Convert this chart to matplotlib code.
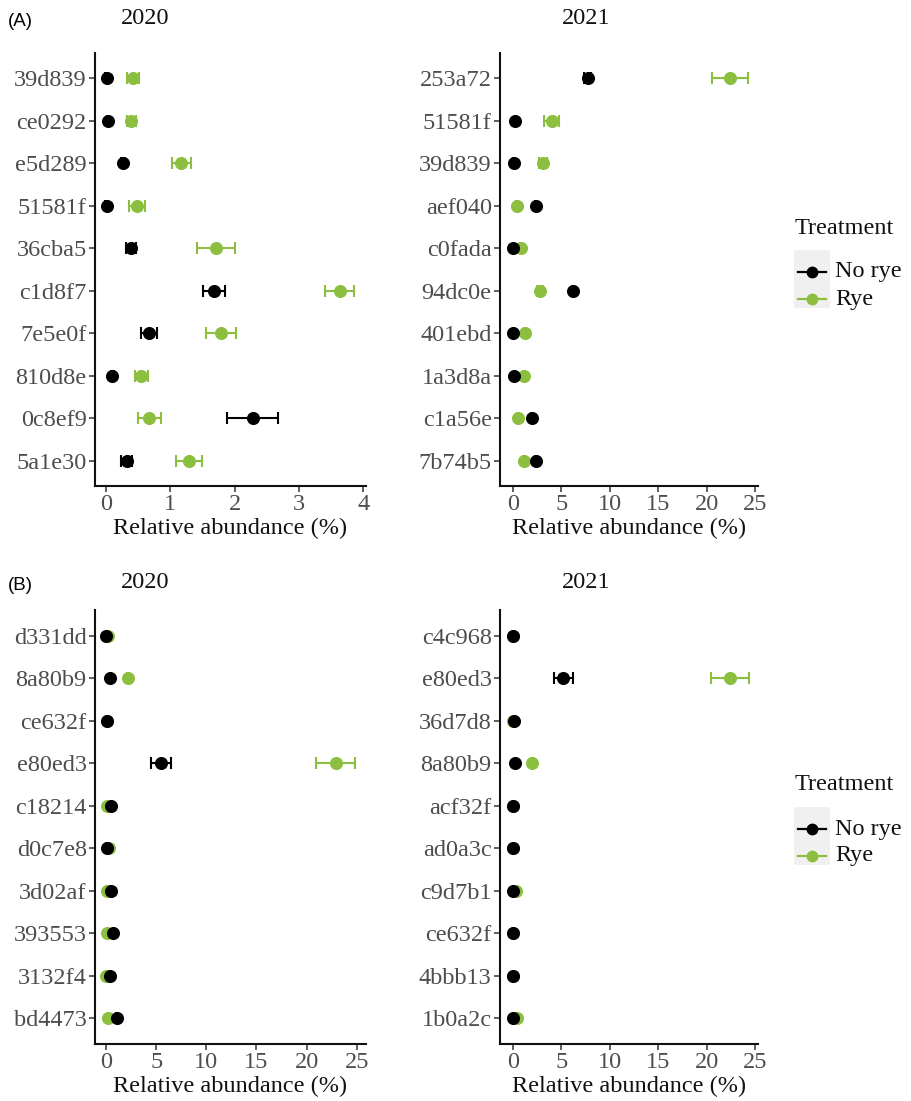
import numpy as np
import matplotlib
matplotlib.use("Agg")
import matplotlib.pyplot as plt
from matplotlib.lines import Line2D
from matplotlib.patches import Rectangle

# ---------------- data ----------------
a20_labels = ["39d839", "ce0292", "e5d289", "51581f", "36cba5", "c1d8f7", "7e5e0f", "810d8e", "0c8ef9", "5a1e30"]
a20_norye = [0.01, 0.03, 0.26, 0.01, 0.39, 1.68, 0.67, 0.10, 2.28, 0.32]
a20_norye_se = [0.02, 0.02, 0.03, 0.02, 0.08, 0.17, 0.12, 0.02, 0.40, 0.09]
a20_rye = [0.42, 0.39, 1.17, 0.48, 1.71, 3.63, 1.79, 0.55, 0.67, 1.29]
a20_rye_se = [0.10, 0.07, 0.145, 0.12, 0.30, 0.23, 0.23, 0.10, 0.18, 0.20]

a21_labels = ["253a72", "51581f", "39d839", "aef040", "c0fada", "94dc0e", "401ebd", "1a3d8a", "c1a56e", "7b74b5"]
a21_norye = [7.74, 0.24, 0.10, 2.40, 0.05, 6.20, 0.05, 0.14, 2.03, 2.40]
a21_norye_se = [0.35, 0.05, 0.05, 0.1, 0.03, 0.1, 0.03, 0.05, 0.1, 0.1]
a21_rye = [22.4, 4.02, 3.10, 0.40, 0.83, 2.82, 1.27, 1.17, 0.50, 1.17]
a21_rye_se = [1.86, 0.80, 0.40, 0.1, 0.1, 0.3, 0.1, 0.1, 0.1, 0.1]

b20_labels = ["d331dd", "8a80b9", "ce632f", "e80ed3", "c18214", "d0c7e8", "3d02af", "393553", "3132f4", "bd4473"]
b20_norye = [0.03, 0.40, 0.05, 5.45, 0.50, 0.05, 0.50, 0.73, 0.40, 1.06]
b20_norye_se = [0.02, 0.05, 0.02, 1.00, 0.05, 0.02, 0.05, 0.05, 0.05, 0.05]
b20_rye = [0.23, 2.16, 0.08, 22.9, 0.13, 0.25, 0.07, 0.13, 0.02, 0.23]
b20_rye_se = [0.03, 0.1, 0.02, 1.95, 0.03, 0.03, 0.03, 0.03, 0.02, 0.03]

b21_labels = ["c4c968", "e80ed3", "36d7d8", "8a80b9", "acf32f", "ad0a3c", "c9d7b1", "ce632f", "4bbb13", "1b0a2c"]
b21_norye = [0.00, 5.22, 0.14, 0.24, 0.00, 0.00, 0.00, 0.00, 0.00, 0.05]
b21_norye_se = [0.02, 0.95, 0.03, 0.05, 0.02, 0.02, 0.02, 0.02, 0.02, 0.02]
b21_rye = [0.05, 22.4, 0.00, 2.03, 0.00, 0.00, 0.30, 0.05, 0.02, 0.40]
b21_rye_se = [0.02, 1.93, 0.02, 0.1, 0.02, 0.02, 0.03, 0.02, 0.02, 0.03]

treatments = ["No rye", "Rye"]
years = ["2020", "2021"]

# ---------------- style ----------------
W, H = 911, 1101
DPI = 100
BLACK = "#000000"
GREEN = "#8cbf3f"
SERIF = ["Liberation Serif", "DejaVu Serif"]
plt.rcParams["font.family"] = SERIF
FS = 17.5

fig = plt.figure(figsize=(W / DPI, H / DPI), dpi=DPI)


def fx(px):
    return px / W


def fy(py):
    return 1 - py / H


def make_ax(left, right, top, bottom):
    return fig.add_axes([fx(left), fy(bottom), fx(right - left), (bottom - top) / H])


panels = [
    (make_ax(95, 366, 53, 486), a20_labels, a20_norye, a20_norye_se, a20_rye, a20_rye_se, (-0.171, 4.04), [0, 1, 2, 3, 4]),
    (make_ax(500, 758, 53, 486), a21_labels, a21_norye, a21_norye_se, a21_rye, a21_rye_se, (-1.31, 25.3), [0, 5, 10, 15, 20, 25]),
    (make_ax(95, 366, 610, 1044), b20_labels, b20_norye, b20_norye_se, b20_rye, b20_rye_se, (-1.1, 25.93), [0, 5, 10, 15, 20, 25]),
    (make_ax(500, 758, 610, 1044), b21_labels, b21_norye, b21_norye_se, b21_rye, b21_rye_se, (-1.31, 25.3), [0, 5, 10, 15, 20, 25]),
]

ms = 8.4
elw = 1.5
cap = 4.0

for ax, labels, nr, nr_se, ry, ry_se, xlim, xticks in panels:
    y = np.arange(len(labels))
    ax.errorbar(ry, y, xerr=ry_se, fmt="o", color=GREEN, ms=ms, elinewidth=elw,
                capsize=cap, capthick=elw, zorder=3)
    ax.errorbar(nr, y, xerr=nr_se, fmt="o", color=BLACK, ms=ms, elinewidth=elw,
                capsize=cap, capthick=elw, zorder=4)
    ax.set_yticks(y)
    ax.set_yticklabels(labels)
    ax.set_ylim(len(labels) - 1 + 0.6, -0.6)
    ax.set_xlim(*xlim)
    ax.set_xticks(xticks)
    ax.set_xlabel("Relative abundance (%)", fontsize=FS, color="#111111", labelpad=2)
    for s in ["top", "right"]:
        ax.spines[s].set_visible(False)
    for s in ["left", "bottom"]:
        ax.spines[s].set_linewidth(1.5)
        ax.spines[s].set_color("#111111")
    ax.tick_params(axis="both", labelsize=FS, labelcolor="#4d4d4d", color="#333333",
                   length=4, width=1.1, pad=2)

# titles and panel tags
for yy in (19, 582):
    fig.text(fx(145), fy(yy), "2020", fontsize=FS, ha="center", va="center", color="#111111")
    fig.text(fx(586), fy(yy), "2021", fontsize=FS, ha="center", va="center", color="#111111")
fig.text(fx(8), fy(22), "(A)", fontsize=13.5, ha="left", va="center", family=["Liberation Sans", "DejaVu Sans"])
fig.text(fx(8), fy(585), "(B)", fontsize=13.5, ha="left", va="center", family=["Liberation Sans", "DejaVu Sans"])

# legends
for top in (228, 785):
    fig.text(fx(795), fy(top), "Treatment", fontsize=FS, ha="left", va="center", color="#111111")
    fig.add_artist(Rectangle((fx(794), fy(top + 80)), fx(36), 58 / H, transform=fig.transFigure,
                             facecolor="#f0f0f0", edgecolor="none", zorder=0))
    for i, (t, c) in enumerate(zip(treatments, [BLACK, GREEN])):
        yk = top + 44 + i * 27
        fig.add_artist(Line2D([fx(798), fx(826)], [fy(yk), fy(yk)], color=c, lw=1.6,
                              transform=fig.transFigure))
        fig.add_artist(Line2D([fx(812)], [fy(yk)], color=c, marker="o", ms=7.5,
                              transform=fig.transFigure, linestyle="none"))
        fig.text(fx(835), fy(yk), t, fontsize=FS, ha="left", va="center", color="#111111")

fig.savefig("out.png", dpi=DPI)
